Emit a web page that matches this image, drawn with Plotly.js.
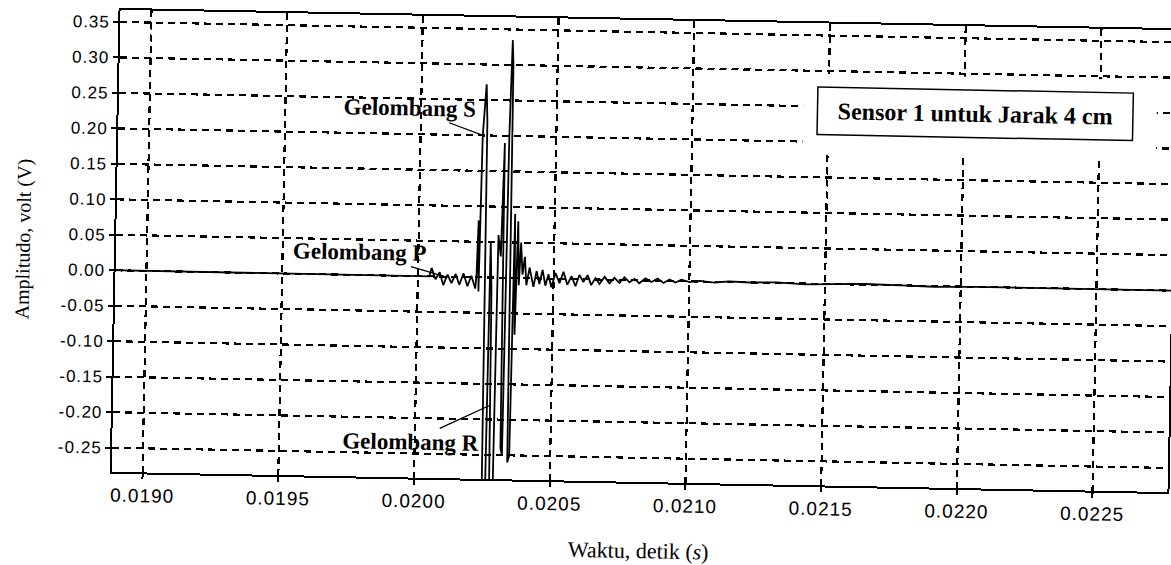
<!DOCTYPE html>
<html>
<head>
<meta charset="utf-8">
<script src="https://cdn.plot.ly/plotly-3.0.1.min.js"></script>
<style>
  html, body { margin: 0; padding: 0; background: #fff; overflow: hidden; }
  /* the printed sheet sits slightly skewed on the scanner bed */
  #chart { width: 1180px; height: 565px; transform: rotate(1.1deg); transform-origin: 644px 251px; }
  #chart .xtick text, #chart .ytick text { letter-spacing: 1px; }
</style>
</head>
<body>
<div id="chart"></div>
<script>
// Sensor 1 record, 4 cm spacing: time (s) and amplitude (V)
const timeSec = [
  0.018860, 0.020042, 0.020050, 0.020065, 0.020080, 0.020094, 0.020109, 0.020124, 0.020139, 0.020153,
  0.020168, 0.020183, 0.020197, 0.020212, 0.020216, 0.020220, 0.020224, 0.020229, 0.020240, 0.020245,
  0.020250, 0.020262, 0.020266, 0.020272, 0.020277, 0.020290, 0.020294, 0.020304, 0.020311, 0.020316,
  0.020322, 0.020327, 0.020333, 0.020337, 0.020342, 0.020349, 0.020354, 0.020360, 0.020366, 0.020372,
  0.020378, 0.020385, 0.020393, 0.020400, 0.020411, 0.020426, 0.020437, 0.020448, 0.020459, 0.020470,
  0.020481, 0.020492, 0.020507, 0.020522, 0.020536, 0.020551, 0.020566, 0.020581, 0.020595, 0.020610,
  0.020625, 0.020639, 0.020654, 0.020669, 0.020688, 0.020706, 0.020724, 0.020743, 0.020761, 0.020780,
  0.020798, 0.020816, 0.020838, 0.020861, 0.020883, 0.020905, 0.020927, 0.020949, 0.020971, 0.021001,
  0.021037, 0.021093, 0.021148, 0.021221, 0.021320, 0.021430, 0.021540, 0.021650, 0.021780, 0.021900,
  0.022050, 0.022200, 0.022400, 0.022800
];
const amplitudeV = [
  0, 0, 0.012, -0.004, 0.006, -0.012, 0.003, -0.009, 0.004, -0.011,
  0.005, -0.013, 0.002, -0.016, 0.004, 0.08, -0.02, 0.20, 0.272, 0.22,
  -0.31, -0.31, 0.05, -0.02, -0.30, -0.30, 0.06, 0.03, 0.19, -0.24,
  -0.25, 0.20, 0.335, 0.30, -0.26, -0.25, 0.09, -0.08, 0.08, -0.01,
  0.05, 0.005, 0.03, -0.01, 0.015, -0.012, 0.010, -0.008, 0.012, -0.010,
  0.006, -0.012, 0.008, -0.006, 0.010, -0.008, 0.004, -0.010, 0.006, -0.004,
  0.006, -0.008, 0.002, -0.006, 0.004, -0.005, 0.003, -0.004, 0.004, -0.003,
  0.002, -0.004, 0.003, -0.002, 0.003, -0.003, 0.002, -0.002, 0.002, -0.001,
  0.001, -0.001, 0.001, 0, 0.001, -0.001, 0, 0.001, 0, -0.001,
  0, 0, 0, 0
];

const xTickVals = [0.0190, 0.0195, 0.0200, 0.0205, 0.0210, 0.0215, 0.0220, 0.0225];
const xTickText = ['0.0190', '0.0195', '0.0200', '0.0205', '0.0210', '0.0215', '0.0220', '0.0225'];
const yTickVals = [0.35, 0.30, 0.25, 0.20, 0.15, 0.10, 0.05, 0.00, -0.05, -0.10, -0.15, -0.20, -0.25];
const yTickText = ['0.35', '0.30', '0.25', '0.20', '0.15', '0.10', '0.05', '0.00', '-0.05', '-0.10', '-0.15', '-0.20', '-0.25'];

// wave phase labels: text, arrow tip (time, amplitude), text offset in px
const waveLabels = ['Gelombang S', 'Gelombang P', 'Gelombang R'];
const waveTipTime = [0.020230, 0.020109, 0.020275];
const waveTipAmp = [0.20, -0.001, -0.18];
const waveOffsetX = [-74, -88, -79];
const waveOffsetY = [-26, -24, 38];

const sensorTitle = 'Sensor 1 untuk Jarak 4 cm';

const serif = 'Liberation Serif, Times New Roman, serif';
const sans = 'Liberation Sans, Arial, sans-serif';

const trace = {
  x: timeSec,
  y: amplitudeV,
  type: 'scatter',
  mode: 'lines',
  line: { color: '#000', width: 1.8 },
  hoverinfo: 'skip'
};

const gridStyle = {
  showgrid: true,
  gridcolor: '#000',
  gridwidth: 2.2,
  griddash: '7px,5px',
  zeroline: false,
  showline: true,
  linecolor: '#000',
  linewidth: 2,
  mirror: true,
  ticks: 'outside',
  ticklen: 5,
  tickwidth: 2,
  tickcolor: '#000'
};

const annotations = waveLabels.map((txt, i) => ({
  x: waveTipTime[i],
  y: waveTipAmp[i],
  xref: 'x',
  yref: 'y',
  text: txt,
  showarrow: true,
  arrowhead: 0,
  arrowwidth: 1.3,
  arrowcolor: '#000',
  ax: waveOffsetX[i],
  ay: waveOffsetY[i],
  font: { family: serif, size: 23, color: '#000', weight: 700 }
}));

annotations.push({
  xref: 'paper',
  yref: 'paper',
  x: 0.811,
  y: 0.810,
  xanchor: 'center',
  yanchor: 'middle',
  text: sensorTitle,
  showarrow: false,
  bgcolor: '#fff',
  bordercolor: '#000',
  borderwidth: 1.5,
  borderpad: 2,
  width: 310,
  height: 42,
  font: { family: serif, size: 24, color: '#000', weight: 700 }
});

const layout = {
  width: 1180,
  height: 565,
  margin: { l: 116, r: 8, t: 20, b: 83 },
  paper_bgcolor: '#fff',
  plot_bgcolor: '#fff',
  showlegend: false,
  xaxis: Object.assign({}, gridStyle, {
    range: [0.018886, 0.022776],
    tickvals: xTickVals,
    ticktext: xTickText,
    tickfont: { family: sans, size: 19, color: '#000' },
    automargin: false,
    title: {
      text: 'Waktu, detik (<i>s</i>)',
      standoff: 28,
      font: { family: serif, size: 22, color: '#000' }
    }
  }),
  yaxis: Object.assign({}, gridStyle, {
    range: [-0.284, 0.367],
    tickvals: yTickVals,
    ticktext: yTickText,
    tickfont: { family: sans, size: 17, color: '#000' },
    automargin: false,
    title: {
      text: 'Amplitudo, volt (V)',
      standoff: 31,
      font: { family: serif, size: 20, color: '#000' }
    }
  }),
  shapes: [{
    // clear patch behind the caption box
    type: 'rect',
    xref: 'paper',
    yref: 'paper',
    x0: 0.648, x1: 0.983,
    y0: 0.7175, y1: 0.8907,
    fillcolor: '#fff',
    line: { width: 0 },
    layer: 'above'
  }],
  annotations: annotations
};

Plotly.newPlot('chart', [trace], layout, { staticPlot: true, displayModeBar: false });
</script>
</body>
</html>
